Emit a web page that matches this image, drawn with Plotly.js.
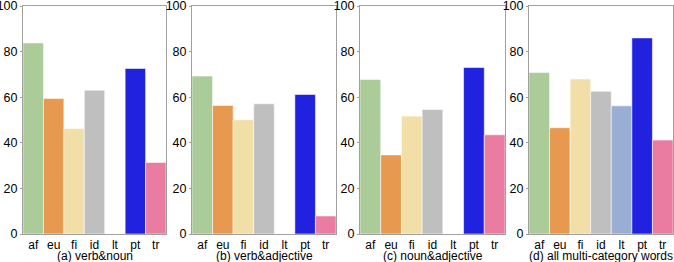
<!DOCTYPE html>
<html>
<head>
<meta charset="utf-8">
<script src="https://cdn.plot.ly/plotly-3.0.1.min.js"></script>
<style>html,body{margin:0;padding:0;background:#fff;}#chart{width:674px;height:262px;}</style>
</head>
<body>
<div id="chart"></div>
<script>
const languages = ['af', 'eu', 'fi', 'id', 'lt', 'pt', 'tr'];
const barColors = ['#abcb98', '#e6994f', '#f2dfa8', '#bfbfbf', '#9aaed5', '#2121e0', '#ea7ba1'];
const panelTitles = ['(a) verb&noun', '(b) verb&adjective', '(c) noun&adjective', '(d) all multi-category words'];
const verbNoun = [83.8, 59.4, 46.3, 63.1, 0, 72.6, 31.4];
const verbAdjective = [69.3, 56.4, 50.1, 57.1, 0, 61.2, 7.9];
const nounAdjective = [67.8, 34.7, 51.7, 54.6, 0, 73.0, 43.5];
const allMultiCategory = [70.8, 46.6, 68.0, 62.6, 56.2, 86.0, 41.2];
const yTicks = [0, 20, 40, 60, 80, 100];

const series = [verbNoun, verbAdjective, nounAdjective, allMultiCategory];
const W = 674;
const panelsPx = [[23, 166], [192, 336], [360, 505], [529, 673]];
const font = {family: '"Liberation Sans", Arial, sans-serif', size: 12, color: '#000'};
const yFont = {family: '"Liberation Sans", Arial, sans-serif', size: 12.5, color: '#000'};

const traces = [];
const layout = {
  width: 674, height: 262,
  margin: {l: 0, r: 0, t: 6, b: 28},
  paper_bgcolor: '#fff', plot_bgcolor: '#fff',
  showlegend: false,
  bargap: 0,
  font: font,
  annotations: []
};

series.forEach((vals, i) => {
  const n = i === 0 ? '' : String(i + 1);
  traces.push({
    type: 'bar',
    x: languages,
    y: vals,
    xaxis: 'x' + n,
    yaxis: 'y' + n,
    marker: {color: barColors, line: {color: 'rgba(255,255,255,0.55)', width: 1}},
    hoverinfo: 'x+y',
    cliponaxis: false
  });
  const dom = [panelsPx[i][0] / W, panelsPx[i][1] / W];
  layout['xaxis' + n] = {
    domain: dom,
    anchor: 'y' + n,
    type: 'category',
    range: [-0.5, 6.5],
    showline: true, mirror: true, linecolor: '#a0a0a0', linewidth: 1,
    showgrid: false, zeroline: false,
    ticks: '', tickfont: font,
    ticklabeloverflow: 'allow',
    fixedrange: true
  };
  layout['yaxis' + n] = {
    domain: [0, 1],
    anchor: 'x' + n,
    range: [0, 100],
    tickmode: 'array',
    tickvals: yTicks,
    ticktext: yTicks.map(String),
    showline: true, mirror: true, linecolor: '#a0a0a0', linewidth: 1,
    showgrid: false, zeroline: false,
    ticks: 'outside', ticklen: 2, tickcolor: '#a0a0a0',
    tickfont: yFont,
    ticklabeloverflow: 'allow',
    fixedrange: true
  };
  layout.annotations.push({
    text: panelTitles[i],
    xref: 'paper', yref: 'paper',
    x: (dom[0] + dom[1]) / 2,
    y: -(255.5 - 234) / 228,
    xanchor: 'center', yanchor: 'middle',
    showarrow: false,
    font: font
  });
});

Plotly.newPlot('chart', traces, layout, {displayModeBar: false, staticPlot: true});
</script>
</body>
</html>
